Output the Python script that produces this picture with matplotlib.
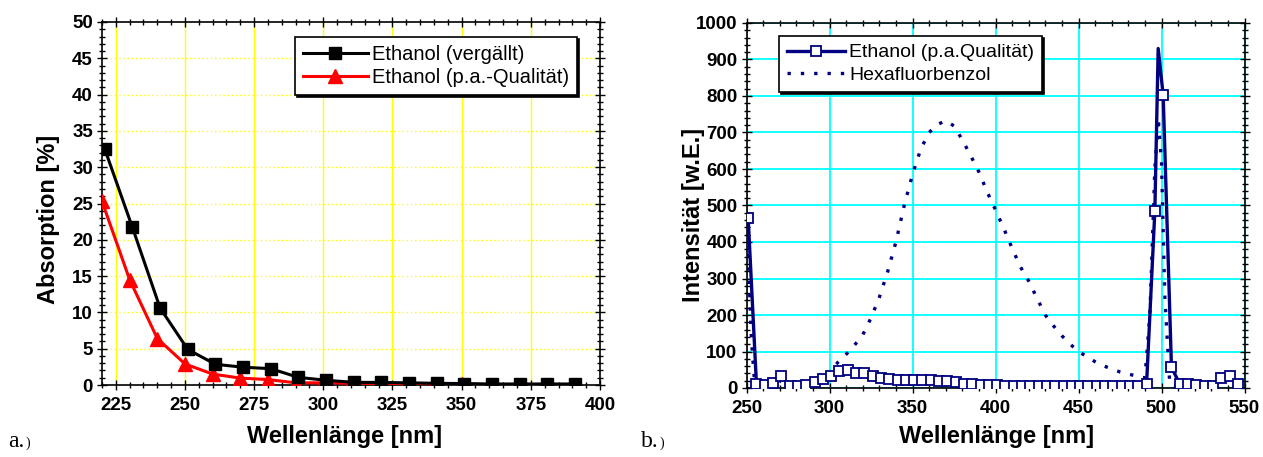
import numpy as np
import matplotlib.pyplot as plt
from matplotlib.ticker import MultipleLocator

plt.rcParams['font.family'] = ['Liberation Sans', 'DejaVu Sans']

# a.) Absorption der Ethanolproben
wl_verg = [221, 231, 241, 251, 261, 271, 281, 291, 301, 311, 321, 331, 341, 351, 361, 371, 381, 391]
abs_verg = [32.5, 21.7, 10.6, 4.9, 2.85, 2.45, 2.25, 1.05, 0.65, 0.37, 0.35, 0.3, 0.23, 0.2, 0.14, 0.14, 0.14, 0.14]
wl_pa = [220, 230, 240, 250, 260, 270, 280, 290, 300, 310, 320, 330, 340, 350]
abs_pa = [25.3, 14.5, 6.4, 2.9, 1.5, 0.95, 0.75, 0.3, 0.3, 0.25, 0.2, 0.2, 0.2, 0.2]

# b.) Fluoreszenz
wl_eth = [251, 256, 261, 266, 271, 276, 281, 286, 291, 296,
          301, 306, 311, 316, 321, 326, 331, 336, 341, 346,
          351, 356, 361, 366, 371, 376, 381, 386, 391, 396,
          401, 406, 411, 416, 421, 426, 431, 436, 441, 446,
          451, 456, 461, 466, 471, 476, 481, 486, 491, 496,
          498, 501, 506, 511, 516, 521, 526, 531, 536, 541, 546]
int_eth = [466, 10, 8, 14, 33, 6, 5, 9, 17, 25,
           34, 46, 48, 41, 41, 34, 27, 26, 23, 23,
           23, 23, 23, 20, 18, 17, 12, 12, 8, 8,
           8, 6, 6, 5, 5, 5, 5, 5, 5, 5,
           5, 5, 5, 5, 5, 5, 5, 5, 10, 486,
           930, 803, 57, 11, 12, 8, 5, 5, 27, 34, 11]
eth_apex = 50  # Linienspitze ohne Symbol

wl_hfb = [250, 251, 253, 255, 258, 263, 267, 270, 275, 280,
          285, 290, 296, 300, 305, 310, 315, 320, 325, 330,
          335, 340, 345, 350, 355, 360, 365, 370, 375, 380,
          385, 390, 395, 400, 405, 410, 415, 420, 425, 430,
          435, 440, 445, 450, 455, 460, 465, 470, 475, 480,
          485, 490, 493, 496, 498, 500, 502, 505, 510, 515,
          520, 525, 530, 535, 540, 545, 548]
int_hfb = [440, 370, 130, 8, 5, 8, 30, 20, 6, 5,
           10, 15, 27, 45, 70, 92, 117, 145, 192, 248,
           318, 400, 500, 585, 655, 700, 722, 732, 718, 680,
           637, 592, 537, 488, 437, 383, 332, 293, 246, 200,
           170, 143, 120, 100, 86, 72, 61, 52, 44, 38,
           33, 28, 200, 600, 740, 620, 250, 10, 5, 5,
           5, 5, 8, 25, 30, 20, 8]

navy = '#000080'

fig = plt.figure(figsize=(12.63, 4.57), dpi=100)
ax1 = fig.add_axes([102 / 1263, 72 / 457, 498 / 1263, 363 / 457])
ax2 = fig.add_axes([746.5 / 1263, 69 / 457, 498 / 1263, 365 / 457])

# ---- a.)
ax1.plot(wl_verg, abs_verg, color='black', lw=2.2, marker='s', ms=8.5,
         label='Ethanol (vergällt)', zorder=4)
ax1.plot(wl_pa, abs_pa, color='red', lw=2.2, marker='^', ms=10,
         label='Ethanol (p.a.-Qualität)', zorder=3)
ax1.set_xlim(220, 400)
ax1.set_ylim(0, 50)
ax1.xaxis.set_major_locator(MultipleLocator(25))
ax1.xaxis.set_minor_locator(MultipleLocator(5))
ax1.yaxis.set_major_locator(MultipleLocator(5))
ax1.yaxis.set_minor_locator(MultipleLocator(1))
for x in range(225, 400, 25):
    ax1.axvline(x, color='#ffff00', lw=1.0, zorder=0)
for y in range(5, 50, 5):
    ax1.axhline(y, color='#ffff00', lw=1.0, ls=(0, (1, 2)), zorder=0)
ax1.set_xlabel('Wellenlänge [nm]', fontsize=17, fontweight='bold')
ax1.set_ylabel('Absorption [%]', fontsize=17, fontweight='bold')
ax1.xaxis.set_label_coords(0.487, -0.143)
ax1.xaxis.label.set_va('center')
ax1.yaxis.set_label_coords(-0.108, 0.455)
ax1.yaxis.label.set_va('center')
leg1 = ax1.legend(loc='upper left', bbox_to_anchor=(193 / 498, 1 - 15 / 363),
                  borderaxespad=0, fontsize=14.5, frameon=True, fancybox=False,
                  edgecolor='black', handlelength=3.2, labelspacing=0.2,
                  borderpad=0.4, handletextpad=0.2,
                  shadow={'ox': 1.5, 'oy': -1.5, 'color': 'black', 'alpha': 1})
leg1.get_frame().set_linewidth(1.2)

# ---- b.)
ax2.plot(wl_eth, int_eth, color=navy, lw=2.4, marker='s', ms=7,
         mfc='white', mec=navy, mew=1.3,
         markevery=[i for i in range(len(wl_eth)) if i != eth_apex],
         label='Ethanol (p.a.Qualität)', zorder=4)
ax2.plot(wl_hfb, int_hfb, color=navy, lw=2.4, ls=(0, (1, 3)),
         label='Hexafluorbenzol', zorder=3)
ax2.set_xlim(250, 550)
ax2.set_ylim(0, 1000)
ax2.xaxis.set_major_locator(MultipleLocator(50))
ax2.xaxis.set_minor_locator(MultipleLocator(10))
ax2.yaxis.set_major_locator(MultipleLocator(100))
ax2.yaxis.set_minor_locator(MultipleLocator(20))
ax2.grid(True, which='major', color='#00ffff', lw=1.3, zorder=0)
ax2.set_axisbelow(True)
ax2.set_xlabel('Wellenlänge [nm]', fontsize=17, fontweight='bold')
ax2.set_ylabel('Intensität [w.E.]', fontsize=17, fontweight='bold')
ax2.xaxis.set_label_coords(0.503, -0.134)
ax2.xaxis.label.set_va('center')
ax2.yaxis.set_label_coords(-0.107, 0.474)
ax2.yaxis.label.set_va('center')
leg2 = ax2.legend(loc='upper left', bbox_to_anchor=(32.5 / 498, 1 - 13 / 365),
                  borderaxespad=0, fontsize=14, frameon=True, fancybox=False,
                  edgecolor='black', handlelength=3.0, labelspacing=0.25,
                  borderpad=0.4, handletextpad=0.2,
                  shadow={'ox': 1.5, 'oy': -1.5, 'color': 'black', 'alpha': 1})
leg2.get_frame().set_linewidth(1.2)

for ax in (ax1, ax2):
    for sp in ax.spines.values():
        sp.set_linewidth(1.2)
    ax.tick_params(which='both', direction='inout', top=True, right=True,
                   labelsize=13.5, width=1.0, pad=3)
    ax.tick_params(axis='x', which='major', pad=5)
    ax.tick_params(which='major', length=7)
    ax.tick_params(which='minor', length=4)
    for lab in ax.get_xticklabels() + ax.get_yticklabels():
        lab.set_fontweight('bold')

ser = ['Liberation Serif', 'DejaVu Serif']
fig.text(8 / 1263, 10 / 457, 'a.', fontsize=17, family=ser, va='baseline')
fig.text(26 / 1263, 10 / 457, ')', fontsize=10, family=ser, va='baseline')
fig.text(641 / 1263, 10 / 457, 'b.', fontsize=17, family=ser, va='baseline')
fig.text(660 / 1263, 10 / 457, ')', fontsize=10, family=ser, va='baseline')

fig.savefig('out.png', dpi=100)
